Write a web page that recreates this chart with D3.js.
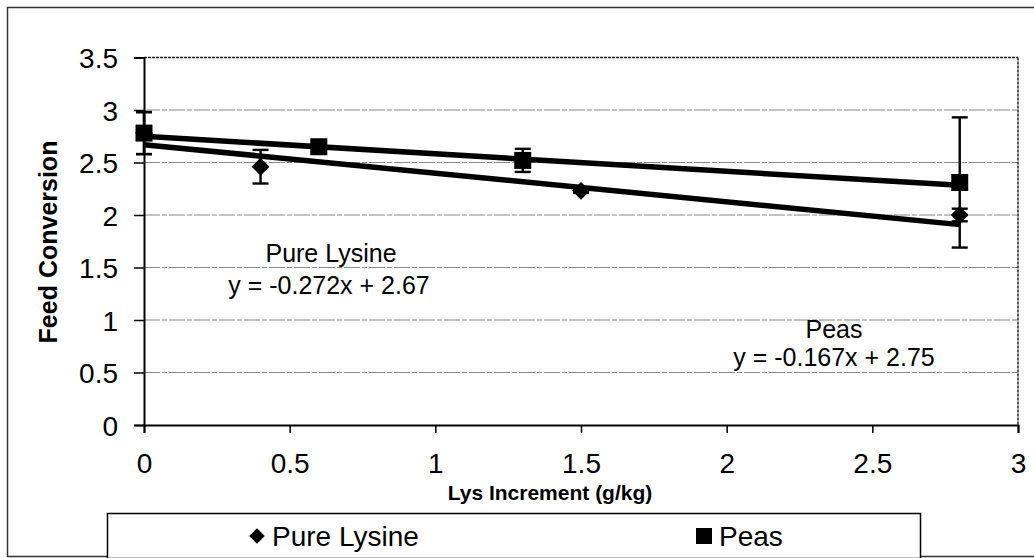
<!DOCTYPE html>
<html><head><meta charset="utf-8">
<script src="https://cdn.jsdelivr.net/npm/d3@7"></script>
<style>body{margin:0;background:#fff}svg{display:block}text{font-family:Arial,"Liberation Sans",sans-serif;fill:#000}</style>
</head><body><svg id="c" width="1034" height="558"></svg>
<script>
const lysX = [0, 0.4, 1.5, 2.8];
const lysY = [2.78, 2.46, 2.23, 2.00];
const lysErr = [0.20, 0.16, 0.02, 0.06];
const peaX = [0, 0.6, 1.3, 2.8];
const peaY = [2.78, 2.65, 2.52, 2.31];
const peaErr = [0.20, 0.03, 0.11, 0.62];
const trendSlope = [-0.272, -0.167];
const trendIntercept = [2.67, 2.75];
const seriesNames = ["Pure Lysine", "Peas"];
const trendLabels = ["y = -0.272x + 2.67", "y = -0.167x + 2.75"];
const xTicks = [0, 0.5, 1, 1.5, 2, 2.5, 3];
const yTicks = [0, 0.5, 1, 1.5, 2, 2.5, 3, 3.5];

const svg = d3.select("#c");
const x = d3.scaleLinear().domain([0, 3]).range([144, 1018]);
const y = d3.scaleLinear().domain([0, 3.5]).range([425, 57.5]);

// outer frame
svg.append("rect").attr("x", 7.5).attr("y", 7.5).attr("width", 1040).attr("height", 549)
  .attr("fill", "none").attr("stroke", "#333").attr("stroke-width", 1.5);

// gridlines
svg.append("g").selectAll("line").data(yTicks.filter(d => d > 0 && d < 3.5)).join("line")
  .attr("x1", x(0)).attr("x2", x(3)).attr("y1", d => y(d)).attr("y2", d => y(d))
  .attr("stroke", "#888").attr("stroke-width", 1.1).attr("stroke-dasharray", "16,2,5,2");

// plot border top/right
svg.append("line").attr("x1", x(0)).attr("x2", x(3)).attr("y1", y(3.5)).attr("y2", y(3.5))
  .attr("stroke", "#222").attr("stroke-width", 1.5).attr("stroke-dasharray", "3,1");
svg.append("line").attr("x1", x(3)).attr("x2", x(3)).attr("y1", y(3.5)).attr("y2", y(0))
  .attr("stroke", "#222").attr("stroke-width", 1.5).attr("stroke-dasharray", "3,1");

// axes
const yAxis = d3.axisLeft(y).tickValues(yTicks).tickFormat(d3.format("")).tickSize(10).tickPadding(16);
const gy = svg.append("g").attr("transform", `translate(${x(0)},0)`).call(yAxis);
const xAxis = d3.axisBottom(x).tickValues(xTicks).tickFormat(d3.format("")).tickSize(8).tickPadding(26);
const gx = svg.append("g").attr("transform", `translate(0,${y(0)})`).call(xAxis);
[gx, gy].forEach(g => {
  g.select(".domain").attr("stroke", "#000").attr("stroke-width", 2);
  g.selectAll(".tick line").attr("stroke", "#000").attr("stroke-width", 1.5);
  g.selectAll(".tick text").attr("font-size", 28).attr("font-family", "Arial, 'Liberation Sans', sans-serif").attr("fill", "#000");
});
gy.selectAll(".tick text").attr("dy", "0.36em");
gx.selectAll(".tick text").attr("dy", "0.5em");

// axis titles
svg.append("text").attr("transform", `translate(57,242) rotate(-90)`).attr("text-anchor", "middle")
  .attr("font-size", 25).attr("font-weight", "bold").text("Feed Conversion");
svg.append("text").attr("x", 550).attr("y", 500).attr("text-anchor", "middle")
  .attr("font-size", 21).attr("font-weight", "bold").text("Lys Increment (g/kg)");

// trend lines
const lineG = svg.append("g");
trendSlope.forEach((m, i) => {
  lineG.append("line").attr("x1", x(0)).attr("y1", y(trendIntercept[i]))
    .attr("x2", x(2.8)).attr("y2", y(trendIntercept[i] + m * 2.8))
    .attr("stroke", "#000").attr("stroke-width", 5.5);
});

// error bars
function errBars(xs, ys, es) {
  const g = svg.append("g").attr("stroke", "#000").attr("stroke-width", 2.4);
  xs.forEach((xv, i) => {
    const cx = x(xv), t = y(ys[i] + es[i]), b = y(ys[i] - es[i]);
    g.append("line").attr("x1", cx).attr("x2", cx).attr("y1", t).attr("y2", b);
    g.append("line").attr("x1", cx - 8).attr("x2", cx + 8).attr("y1", t).attr("y2", t);
    g.append("line").attr("x1", cx - 8).attr("x2", cx + 8).attr("y1", b).attr("y2", b);
  });
}
errBars(lysX, lysY, lysErr);
errBars(peaX, peaY, peaErr);

// markers
svg.append("g").selectAll("path").data(lysX.map((d, i) => [d, lysY[i]])).join("path")
  .attr("d", d3.symbol().type(d3.symbolSquare).size(160)())
  .attr("transform", d => `translate(${x(d[0])},${y(d[1])}) rotate(45)`).attr("fill", "#000");
svg.append("g").selectAll("rect").data(peaX.map((d, i) => [d, peaY[i]])).join("rect")
  .attr("x", d => x(d[0]) - 8.5).attr("y", d => y(d[1]) - 8.5).attr("width", 17).attr("height", 17).attr("fill", "#000");

// trend annotations
const annPos = [[331, 262, 329, 294], [834, 338, 834, 366]];
seriesNames.forEach((n, i) => {
  svg.append("text").attr("x", annPos[i][0]).attr("y", annPos[i][1]).attr("text-anchor", "middle")
    .attr("font-size", 25).text(n);
  svg.append("text").attr("x", annPos[i][2]).attr("y", annPos[i][3]).attr("text-anchor", "middle")
    .attr("font-size", 25).text(trendLabels[i]);
});

// legend
svg.append("rect").attr("x", 107.5).attr("y", 513.5).attr("width", 813).attr("height", 45)
  .attr("fill", "#fff").attr("stroke", "#000").attr("stroke-width", 1.5);
const legX = [257, 704];
seriesNames.forEach((n, i) => {
  if (i === 0) {
    svg.append("path").attr("d", d3.symbol().type(d3.symbolSquare).size(120)())
      .attr("transform", `translate(${legX[i]},536) rotate(45)`).attr("fill", "#000");
  } else {
    svg.append("rect").attr("x", legX[i] - 8).attr("y", 528).attr("width", 16).attr("height", 16).attr("fill", "#000");
  }
  svg.append("text").attr("x", legX[i] + 15).attr("y", 546).attr("font-size", 28).text(n);
});
</script></body></html>
